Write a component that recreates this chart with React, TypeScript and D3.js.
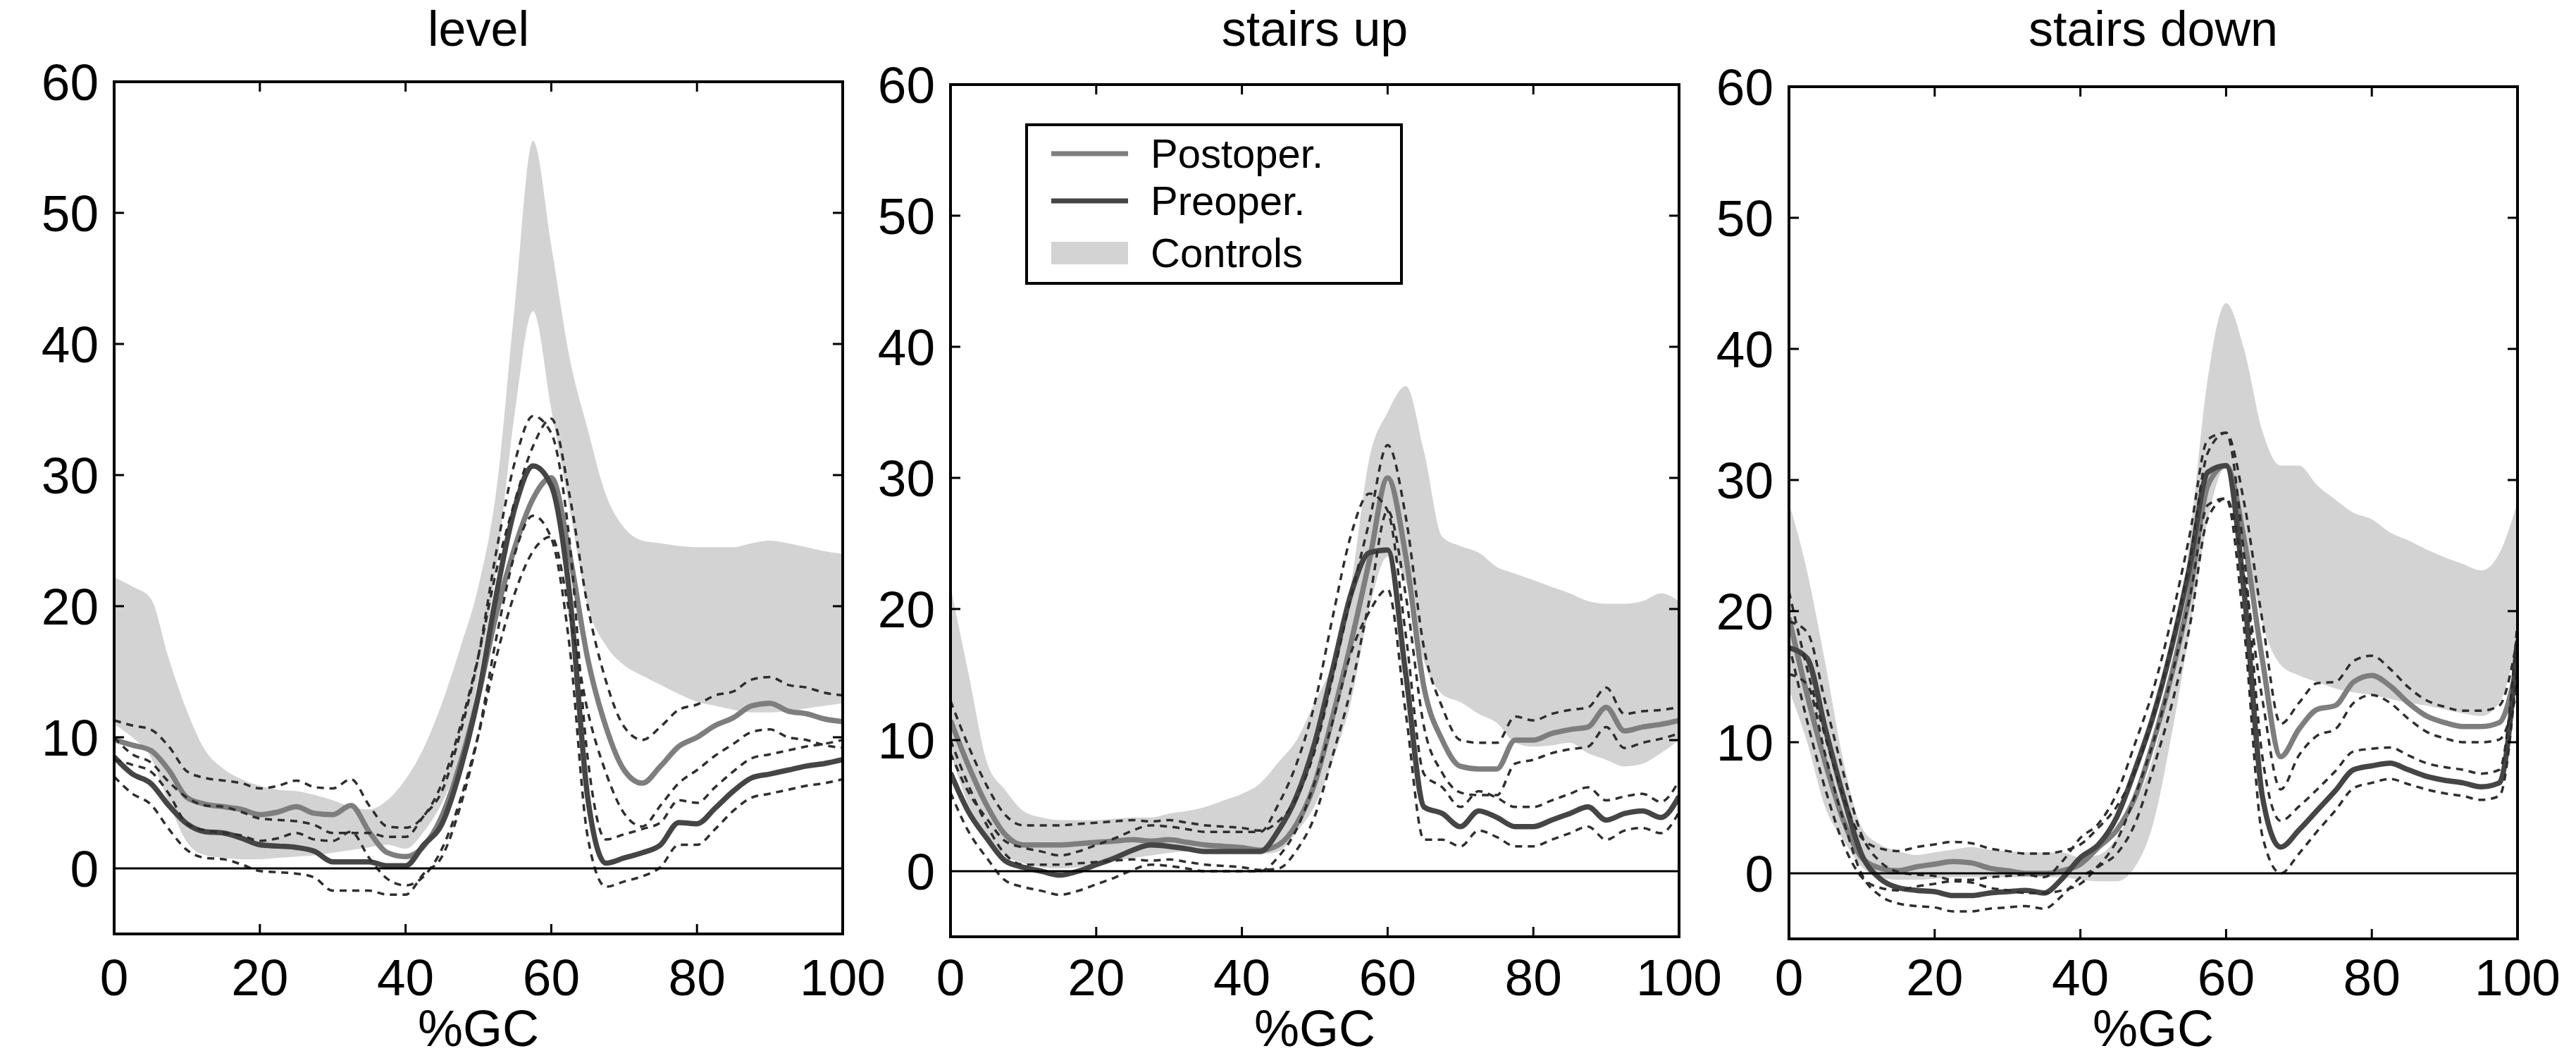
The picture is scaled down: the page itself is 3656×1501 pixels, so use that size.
import * as d3 from 'd3';

// %GC sample points shared by all three panels
const gc = [0, 2.5, 5, 7.5, 10, 12.5, 15, 17.5, 20, 22.5, 25, 27.5, 30, 32.5, 35, 37.5, 40, 42.5, 45, 47.5,
  50, 52.5, 55, 57.5, 60, 62.5, 65, 67.5, 70, 72.5, 75, 77.5, 80, 82.5, 85, 87.5, 90, 92.5, 95, 97.5, 100];

const xTicks = [0, 20, 40, 60, 80, 100];
const yTicks = [0, 10, 20, 30, 40, 50, 60];
const titles = ['level', 'stairs up', 'stairs down'];
const legendLabels = ['Postoper.', 'Preoper.', 'Controls'];

// level
const levelCtrlHi = [22.2, 21.5, 20.6, 16, 12, 9, 7.6, 6.8, 6.3, 6, 5.9, 5.6, 5.2, 4.7, 4.5, 5.2, 6.8, 9.2, 12.6, 16.8,
  21.5, 29, 43, 55.5, 47.5, 39, 33.5, 28.5, 26, 25, 24.8, 24.6, 24.5, 24.5, 24.5, 24.8, 25, 24.8, 24.5, 24.2, 24];
const levelCtrlLo = [11, 10, 8.5, 5, 2, 1, 0.8, 0.7, 0.7, 0.8, 0.9, 1, 1.2, 1.4, 1.6, 1.8, 1.5, 2.8, 5, 8.5,
  14.5, 23, 34.8, 42.5, 35, 27.5, 20, 17, 15.5, 14.7, 14, 13.3, 12.7, 12.4, 12.1, 11.9, 11.9, 12, 12.2, 12.4, 12.6];
const levelPost = [9.8, 9.4, 9, 7.5, 5.4, 4.9, 4.7, 4.5, 4.1, 4.3, 4.7, 4.2, 4.1, 4.8, 2.8, 1.2, 0.9, 1.7, 4, 8,
  13.2, 19.5, 24.5, 28.2, 29.8, 24, 16, 10.8, 7.5, 6.5, 7.8, 9.3, 10, 10.9, 11.5, 12.4, 12.6, 12, 11.8, 11.4, 11.2];
const levelPre = [8.5, 7.2, 6.5, 4.8, 3.4, 2.8, 2.7, 2.3, 1.8, 1.7, 1.6, 1.3, 0.5, 0.5, 0.5, 0.2, 0.2, 1.8, 3.4, 7.5,
  13.2, 21, 27.5, 30.7, 29.2, 21, 5.4, 0.4, 0.8, 1.2, 1.8, 3.5, 3.4, 4.6, 5.9, 6.9, 7.2, 7.5, 7.8, 8, 8.3];
const levelPostSd = [1.5, 1.5, 1.6, 1.8, 2, 2, 2, 2, 2, 2, 2, 2, 2, 2, 2, 2, 2.2, 2.3, 2.5, 2.8,
  3, 3.3, 3.5, 4, 4.5, 4.5, 4, 3.5, 3.3, 3.3, 3, 2.8, 2.5, 2.3, 2, 2, 2, 2, 2, 2, 2];
const levelPreSd = [1.5, 1.5, 1.6, 1.8, 2, 2, 2, 2, 2, 2, 2, 2, 2.2, 2.2, 2.2, 2.2, 2.2, 2.2, 2.5, 2.8,
  3, 3.3, 3.5, 3.8, 4, 4, 3, 1.8, 1.8, 1.8, 1.7, 1.7, 1.6, 1.6, 1.5, 1.5, 1.5, 1.5, 1.5, 1.5, 1.5];

// stairs up
const upCtrlHi = [21.7, 15, 8.3, 6.2, 4.6, 4.1, 3.9, 3.9, 3.9, 4, 4.1, 4.1, 4.4, 4.6, 4.9, 5.4, 5.9, 6.7, 8.3, 10,
  12.9, 16, 22, 31.5, 35, 37, 32, 25.5, 24.8, 24.3, 23.2, 22.7, 22.2, 21.7, 21.2, 20.6, 20.4, 20.4, 20.6, 21.2, 20.6];
const upCtrlLo = [9, 5, 2.5, 1.2, 0.6, 0.3, 0.2, 0.3, 0.5, 0.8, 1, 1.2, 1.4, 1.5, 1.5, 1.5, 1.4, 1.3, 1.5, 3,
  5, 8.5, 13, 20, 24, 22, 16, 13.5, 12.9, 12, 11.3, 9.8, 9.5, 9.6, 9.8, 9, 8.5, 8, 8.2, 9, 10];
const upPost = [11.5, 8, 5, 2.8, 2, 2, 2, 2.1, 2.2, 2.3, 2.4, 2.3, 2.4, 2.2, 2, 1.9, 1.8, 1.6, 2, 3.6,
  6.7, 11.9, 17.5, 23.7, 30, 24, 14, 10, 8, 7.8, 7.8, 10, 10, 10.5, 10.8, 11, 12.5, 10.7, 11, 11.2, 11.5];
const upPre = [7.5, 4.5, 2.5, 0.8, 0.3, 0, -0.3, 0, 0.5, 1, 1.6, 2, 1.9, 1.7, 1.5, 1.5, 1.5, 1.5, 3.1, 5.7,
  9.8, 15.5, 21.2, 24.3, 24.5, 15, 4.9, 4.4, 3.4, 4.6, 4.1, 3.4, 3.4, 3.9, 4.4, 4.9, 3.9, 4.4, 4.6, 4.1, 5.7];
const upPostSd = [1.5, 1.5, 1.5, 1.5, 1.5, 1.5, 1.5, 1.5, 1.5, 1.5, 1.5, 1.5, 1.5, 1.5, 1.5, 1.5, 1.5, 1.5, 1.8, 2,
  2.5, 3, 3.5, 3, 2.5, 3, 3, 2.5, 2, 2, 2, 1.8, 1.5, 1.5, 1.5, 1.5, 1.5, 1.3, 1.2, 1.1, 1];
const upPreSd = [1.5, 1.5, 1.5, 1.5, 1.5, 1.5, 1.5, 1.5, 1.5, 1.5, 1.5, 1.5, 1.5, 1.5, 1.5, 1.5, 1.5, 1.5, 2, 2.5,
  3, 4, 4.5, 4.5, 3, 3, 2.5, 2, 1.5, 1.5, 1.5, 1.5, 1.5, 1.5, 1.5, 1.5, 1.5, 1.3, 1.3, 1.2, 1.2];

// stairs down
const downCtrlHi = [28.3, 23, 16, 8.5, 3.5, 2.2, 1.7, 1.4, 1.6, 1.8, 2, 1.8, 1.7, 1.6, 1.6, 1.6, 1.2, 1.4, 2.7, 5.3,
  8.9, 15.1, 25.4, 37.8, 43.5, 39.9, 33.7, 31.1, 31.1, 29.6, 28.5, 27.5, 27, 26, 25.4, 24.7, 24.1, 23.6, 23.1, 24.4, 28.3];
const downCtrlLo = [14, 10, 5, 2.5, 0.5, -0.3, -0.5, -0.5, -0.4, -0.3, -0.3, -0.3, -0.3, -0.3, -0.3, -0.3, -0.5, -0.6, -0.6, 0.5,
  3.8, 10.5, 18.5, 27, 31, 26, 19, 15.9, 15.1, 14.6, 14.1, 13.8, 13.6, 13.3, 13, 12.8, 12.5, 12.2, 12, 13, 17.7];
const downPost = [19.5, 13.6, 8.4, 4, 1.2, 0.4, 0.2, 0.5, 0.7, 0.9, 0.8, 0.4, 0.2, 0, 0, 0.2, 0.7, 2, 3.3, 5.8,
  10, 15.1, 21.3, 29.6, 31.1, 25.4, 16.2, 8.9, 11, 12.5, 12.8, 14.6, 15.1, 14.3, 13, 12, 11.5, 11.2, 11.2, 11.5, 16];
const downPre = [17.2, 16.4, 11, 5.8, 1.4, -0.4, -1.1, -1.3, -1.4, -1.7, -1.7, -1.5, -1.4, -1.3, -1.5, -0.4, 1.2, 2.2, 4.3, 7.9,
  12, 17.2, 23.4, 30.6, 31.1, 21.3, 5.8, 2, 3.3, 4.8, 6.3, 7.9, 8.2, 8.4, 7.9, 7.4, 7.1, 6.9, 6.6, 6.9, 17.7];
const downPostSd = [2, 2, 2, 1.8, 1.5, 1.5, 1.5, 1.5, 1.5, 1.5, 1.5, 1.5, 1.5, 1.5, 1.5, 1.5, 1.5, 1.5, 1.8, 2,
  2, 2.3, 2.5, 2.5, 2.5, 2.8, 3, 2.5, 2, 2, 1.8, 1.6, 1.5, 1.3, 1.2, 1.2, 1.2, 1.2, 1.2, 1.3, 2];
const downPreSd = [2, 2, 2, 1.8, 1.5, 1.3, 1.2, 1.2, 1.2, 1.2, 1.2, 1.2, 1.2, 1.2, 1.2, 1.3, 1.5, 1.6, 1.8, 2,
  2, 2.2, 2.4, 2.5, 2.5, 2.8, 3, 2, 1.8, 1.6, 1.5, 1.4, 1.3, 1.2, 1.1, 1, 1, 1, 1, 1, 1.5];

const panels = [
  { lo: levelCtrlLo, hi: levelCtrlHi, post: levelPost, pre: levelPre, postSd: levelPostSd, preSd: levelPreSd },
  { lo: upCtrlLo, hi: upCtrlHi, post: upPost, pre: upPre, postSd: upPostSd, preSd: upPreSd },
  { lo: downCtrlLo, hi: downCtrlHi, post: downPost, pre: downPre, postSd: downPostSd, preSd: downPreSd },
];

const WIDTH = 3656;
const HEIGHT = 1501;
const PW = 1034;
const PH = 1209;
const lefts = [162, 1349, 2539];
const tops = [116, 120, 123];
// shared text baselines (page coordinates)
const TITLE_Y = 65;
const XLABEL_Y = 1412;
const GC_Y = 1484;

const FONT = '"Liberation Sans", Arial, sans-serif';
const CTRL = '#d3d3d3';
const POST = '#7e7e7e';
const PRE = '#454545';
const DASH = '#2e2e2e';

function Panel({ index }: { index: number }) {
  const p = panels[index];
  const top = tops[index];
  const x = d3.scaleLinear().domain([0, 100]).range([0, PW]);
  const y = d3.scaleLinear().domain([-5, 60]).range([PH, 0]);

  const band = d3.area<number>()
    .x((_, i) => x(gc[i]))
    .y0((_, i) => y(p.lo[i]))
    .y1((_, i) => y(p.hi[i]))
    .curve(d3.curveMonotoneX);

  const line = d3.line<number>()
    .x((_, i) => x(gc[i]))
    .y(d => y(d))
    .curve(d3.curveMonotoneX);

  const sdLines = [
    p.post.map((v, i) => v + p.postSd[i]),
    p.post.map((v, i) => v - p.postSd[i]),
    p.pre.map((v, i) => v + p.preSd[i]),
    p.pre.map((v, i) => v - p.preSd[i]),
  ];

  const clipId = `clip-${index}`;
  const tick = 14;

  return (
    <g transform={`translate(${lefts[index]},${top})`}>
      <defs>
        <clipPath id={clipId}>
          <rect x={0} y={0} width={PW} height={PH} />
        </clipPath>
      </defs>

      <g clipPath={`url(#${clipId})`}>
        <path d={band(p.lo) || ''} fill={CTRL} />
        <path d={line(p.post) || ''} fill="none" stroke={POST} strokeWidth={7.5} strokeLinejoin="round" />
        <path d={line(p.pre) || ''} fill="none" stroke={PRE} strokeWidth={7.5} strokeLinejoin="round" />
        {sdLines.map((s, i) => (
          <path key={i} d={line(s) || ''} fill="none" stroke={DASH} strokeWidth={3.5}
            strokeDasharray="10,8" />
        ))}
        <line x1={0} x2={PW} y1={y(0)} y2={y(0)} stroke="#000" strokeWidth={3} />
      </g>

      {/* inward ticks on all four sides */}
      {xTicks.slice(1, -1).map(t => (
        <g key={`xt${t}`}>
          <line x1={x(t)} x2={x(t)} y1={PH} y2={PH - tick} stroke="#000" strokeWidth={3} />
          <line x1={x(t)} x2={x(t)} y1={0} y2={tick} stroke="#000" strokeWidth={3} />
        </g>
      ))}
      {yTicks.slice(1, -1).map(t => (
        <g key={`yt${t}`}>
          <line x1={0} x2={tick} y1={y(t)} y2={y(t)} stroke="#000" strokeWidth={3} />
          <line x1={PW} x2={PW - tick} y1={y(t)} y2={y(t)} stroke="#000" strokeWidth={3} />
        </g>
      ))}
      <rect x={0} y={0} width={PW} height={PH} fill="none" stroke="#000" strokeWidth={4} />

      {xTicks.map(t => (
        <text key={`xl${t}`} x={x(t)} y={XLABEL_Y - top} textAnchor="middle"
          fontFamily={FONT} fontSize={73} fill="#000">{t}</text>
      ))}
      {yTicks.map(t => (
        <text key={`yl${t}`} x={-22} y={y(t)} dy="0.36em" textAnchor="end"
          fontFamily={FONT} fontSize={73} fill="#000">{t}</text>
      ))}

      <text x={PW / 2} y={TITLE_Y - top} textAnchor="middle" fontFamily={FONT} fontSize={70}
        fill="#000">{titles[index]}</text>
      <text x={PW / 2} y={GC_Y - top} textAnchor="middle" fontFamily={FONT} fontSize={72}
        fill="#000">%GC</text>

      {index === 1 && <Legend />}
    </g>
  );
}

function Legend() {
  const rows = [41, 108, 182];
  return (
    <g transform="translate(108,57)">
      <rect x={0} y={0} width={532} height={225} fill="#fff" stroke="#000" strokeWidth={4} />
      <line x1={35} x2={144} y1={rows[0]} y2={rows[0]} stroke={POST} strokeWidth={7} />
      <line x1={35} x2={144} y1={rows[1]} y2={rows[1]} stroke={PRE} strokeWidth={7} />
      <rect x={35} y={rows[2] - 16} width={109} height={32} fill={CTRL} />
      {legendLabels.map((label, i) => (
        <text key={label} x={176} y={rows[i] + 20} fontFamily={FONT} fontSize={58} fill="#000">{label}</text>
      ))}
    </g>
  );
}

export default function App() {
  return (
    <svg width={WIDTH} height={HEIGHT} viewBox={`0 0 ${WIDTH} ${HEIGHT}`}
      style={{ position: 'absolute', left: 0, top: 0, background: '#fff' }}>
      <rect width={WIDTH} height={HEIGHT} fill="#fff" />
      {panels.map((_, i) => <Panel key={i} index={i} />)}
    </svg>
  );
}
